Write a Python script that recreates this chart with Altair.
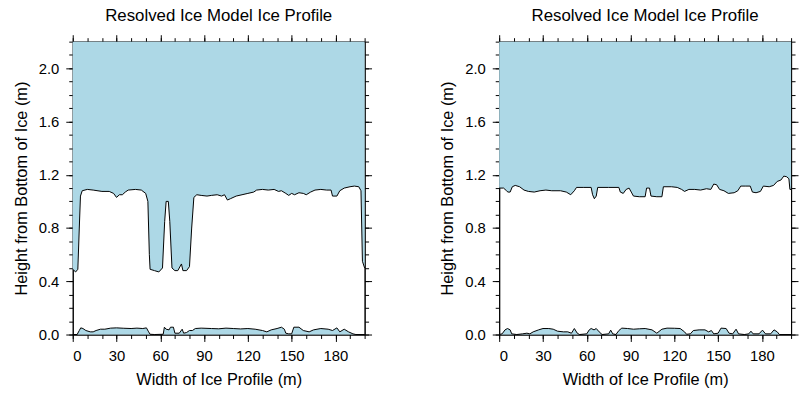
import altair as alt
import pandas as pd

# ---------------- data ----------------
left_top_x = [0, 2, 3.5, 4.5, 5.3, 6.5, 10, 14, 20, 25, 28, 30, 32, 34, 36, 38, 43, 47, 50, 51.5,
              52.5, 53, 56, 59, 61.5, 63, 64, 65.5, 66.5, 68, 70, 72, 74.5, 75.5, 78, 80, 81.5, 83, 85, 88,
              92, 95, 99, 102, 104, 106, 108, 112, 116, 120, 124, 126, 130, 134, 138, 141, 143, 146, 148, 150,
              152, 155, 158, 160, 163, 166, 170, 174, 177, 178, 181, 183, 186, 190, 193, 196, 197.5, 198.5, 200]
left_top_h = [0.49, 0.47, 0.49, 0.80, 1.04, 1.08, 1.09, 1.085, 1.075, 1.075, 1.06, 1.03, 1.05, 1.05, 1.07, 1.085, 1.09, 1.085, 1.06, 1.00,
              0.60, 0.49, 0.48, 0.47, 0.50, 0.85, 1.00, 1.00, 0.85, 0.50, 0.48, 0.48, 0.53, 0.48, 0.48, 0.51, 0.80, 1.03, 1.05, 1.045,
              1.04, 1.045, 1.05, 1.04, 1.05, 1.01, 1.02, 1.04, 1.05, 1.06, 1.07, 1.085, 1.09, 1.085, 1.09, 1.075, 1.08, 1.06, 1.045, 1.06,
              1.05, 1.065, 1.06, 1.05, 1.07, 1.085, 1.09, 1.085, 1.085, 1.04, 1.04, 1.08, 1.10, 1.11, 1.115, 1.11, 1.08, 0.55, 0.50]

left_bot_x = [0, 3, 4.5, 5.5, 7, 9, 12, 14, 16, 19, 22, 26, 30, 35, 40, 44, 48, 50.5, 52, 53,
              56, 62, 62.8, 64, 66, 67, 69, 70, 73, 75, 76, 78, 80, 82, 84, 88, 95, 100, 105, 110,
              115, 120, 125, 130, 133, 136, 140, 143, 145, 146, 148, 150, 151.5, 155, 158, 162, 165, 170, 175, 178,
              181, 183, 186, 189, 192, 194, 200]
left_bot_h = [0.0, 0.0, 0.03, 0.05, 0.045, 0.03, 0.02, 0.02, 0.03, 0.04, 0.04, 0.048, 0.05, 0.047, 0.045, 0.048, 0.045, 0.05, 0.02, 0.002,
              0.0, 0.002, 0.055, 0.04, 0.035, 0.055, 0.055, 0.01, 0.01, 0.04, 0.01, 0.015, 0.03, 0.03, 0.045, 0.048, 0.045, 0.043, 0.048, 0.045,
              0.042, 0.045, 0.04, 0.03, 0.02, 0.035, 0.045, 0.055, 0.04, 0.01, 0.005, 0.005, 0.055, 0.055, 0.03, 0.02, 0.035, 0.045, 0.04, 0.03,
              0.05, 0.02, 0.04, 0.02, 0.005, 0.0, 0.0]

right_top_x = [0, 3, 5, 6, 7.5, 9, 11, 14, 17, 20, 24, 28, 32, 36, 42, 46, 49, 51.5, 53, 58,
               63, 64, 65.2, 66.5, 67.5, 75, 82, 83, 85, 87, 89, 90.5, 92, 96, 100, 101, 103, 104, 108, 111.5,
               112.5, 118, 122, 125, 127, 130, 134, 138, 142, 145, 147, 149, 151, 154, 157, 161, 163.5, 165.5, 169, 172,
               173.5, 176, 179, 181, 185, 188, 190.5, 193, 195, 197, 198.5, 199.2, 200]
right_top_h = [1.10, 1.10, 1.08, 1.07, 1.07, 1.11, 1.12, 1.11, 1.085, 1.075, 1.07, 1.08, 1.085, 1.08, 1.08, 1.07, 1.05, 1.08, 1.105, 1.105,
               1.105, 1.05, 1.02, 1.04, 1.105, 1.105, 1.105, 1.07, 1.06, 1.09, 1.10, 1.07, 1.04, 1.035, 1.035, 1.10, 1.10, 1.04, 1.035, 1.035,
               1.11, 1.11, 1.105, 1.09, 1.075, 1.09, 1.09, 1.085, 1.095, 1.09, 1.13, 1.125, 1.09, 1.08, 1.06, 1.065, 1.08, 1.115, 1.115, 1.115,
               1.07, 1.065, 1.075, 1.115, 1.11, 1.12, 1.15, 1.16, 1.19, 1.185, 1.17, 1.09, 1.09]

right_bot_x = [0, 2, 4, 5.7, 7.5, 8.6, 12, 16, 19, 21, 23.3, 27, 30, 34, 37, 40, 44, 47, 49.5, 51.5,
               53.5, 55, 60, 61.7, 63, 65, 66.5, 68.5, 70.5, 75, 76.4, 77.8, 80, 82, 84, 88, 92, 96, 100, 104.7,
               108, 111.5, 115, 120, 124, 127, 128.4, 131, 133, 137, 141, 143.5, 145.4, 147, 150, 152, 155.5, 157.5, 160, 162.3,
               164, 168, 171, 172.5, 174, 178, 180.4, 182.5, 186, 188.3, 190.5, 192, 200]
right_bot_h = [0.0, 0.005, 0.035, 0.045, 0.035, 0.005, 0.0, 0.005, 0.01, 0.005, 0.02, 0.035, 0.045, 0.045, 0.04, 0.025, 0.02, 0.02, 0.01, 0.045,
               0.01, 0.0, 0.005, 0.035, 0.045, 0.035, 0.045, 0.02, 0.0, 0.005, 0.033, 0.005, 0.0, 0.03, 0.048, 0.045, 0.04, 0.043, 0.045, 0.035,
               0.01, 0.04, 0.048, 0.047, 0.045, 0.02, 0.002, 0.005, 0.03, 0.035, 0.035, 0.02, 0.03, 0.005, 0.01, 0.048, 0.045, 0.01, 0.005, 0.04,
               0.005, 0.0, 0.005, 0.025, 0.005, 0.005, 0.033, 0.005, 0.005, 0.035, 0.02, 0.0, 0.0]

x_major = [0, 30, 60, 90, 120, 150, 180]
x_minor = list(range(0, 201, 10))
y_major = [0.0, 0.4, 0.8, 1.2, 1.6, 2.0]
y_minor = [round(i * 0.1, 1) for i in range(23)]

TITLE = "Resolved Ice Model Ice Profile"
X_TITLE = "Width of Ice Profile (m)"
Y_TITLE = "Height from Bottom of Ice (m)"

FILL = "#ADD8E6"
FONT = "Liberation Sans"


def panel(tx, th, bx, bh):
    top = pd.DataFrame({"x": tx, "h": th})
    bot = pd.DataFrame({"x": bx, "h": bh})
    xs = alt.Scale(domain=[0, 200], nice=False, zero=False)
    ys = alt.Scale(domain=[0, 2.2], nice=False)

    a = alt.Chart(top).mark_area(color=FILL, opacity=1).encode(
        x=alt.X("x:Q", scale=xs,
                axis=alt.Axis(orient="bottom", values=x_major, tickSize=7, title=X_TITLE)),
        y=alt.Y("h:Q", scale=ys,
                axis=alt.Axis(orient="left", values=y_major, format=".1f", tickSize=7, title=Y_TITLE)),
        y2=alt.datum(2.2),
    )
    b = alt.Chart(top).mark_line(color="black", strokeWidth=1).encode(
        x=alt.X("x:Q", scale=xs,
                axis=alt.Axis(orient="bottom", values=x_minor, tickSize=4, labels=False, title=None)),
        y=alt.Y("h:Q", scale=ys,
                axis=alt.Axis(orient="left", values=y_minor, tickSize=4, labels=False, title=None)),
    )
    c = alt.Chart(bot).mark_area(color=FILL, opacity=1).encode(
        x=alt.X("x:Q", scale=xs,
                axis=alt.Axis(orient="top", values=x_major, tickSize=7, labels=False, title=None)),
        y=alt.Y("h:Q", scale=ys,
                axis=alt.Axis(orient="right", values=y_major, tickSize=7, labels=False, title=None)),
        y2=alt.datum(0),
    )
    d = alt.Chart(bot).mark_line(color="black", strokeWidth=1).encode(
        x=alt.X("x:Q", scale=xs,
                axis=alt.Axis(orient="top", values=x_minor, tickSize=4, labels=False, title=None)),
        y=alt.Y("h:Q", scale=ys,
                axis=alt.Axis(orient="right", values=y_minor, tickSize=4, labels=False, title=None)),
    )
    return (
        alt.layer(a, b, c, d)
        .resolve_scale(x="shared", y="shared")
        .resolve_axis(x="independent", y="independent")
        .properties(width=295, height=296, title=TITLE)
    )


left = panel(left_top_x, left_top_h, left_bot_x, left_bot_h)
right = panel(right_top_x, right_top_h, right_bot_x, right_bot_h)

chart = (
    alt.hconcat(left, right, spacing=67)
    .properties(padding={"left": 12.5, "top": 5, "right": 0, "bottom": 0}, background="white")
    .configure_view(stroke="transparent")
    .configure_axis(
        grid=False,
        domainColor="black",
        domainWidth=1,
        tickColor="black",
        tickWidth=1,
        labelFont=FONT,
        labelFontSize=15,
        labelColor="black",
        labelPadding=7,
        titleFont=FONT,
        titleFontSize=16.5,
        titleFontWeight="normal",
        titleColor="black",
        titlePadding=9,
        zindex=1,
    )
    .configure_title(font=FONT, fontSize=17, fontWeight="normal", color="black", offset=9, anchor="middle")
)

chart.save("out.html", embed_options={"renderer": "svg", "actions": False})
